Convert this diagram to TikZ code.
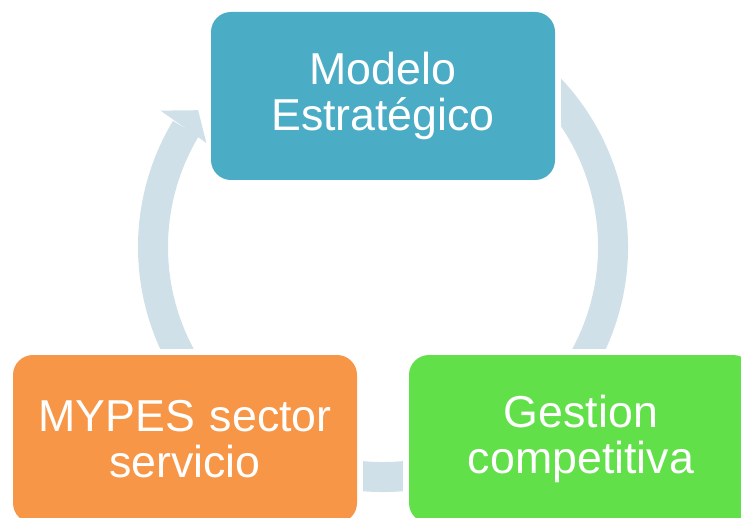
\documentclass[tikz,border=0pt]{standalone}
\usepackage{fontspec}
\setmainfont{Liberation Sans}
\usetikzlibrary{backgrounds}

\definecolor{azul}{HTML}{4BACC6}
\definecolor{naranja}{HTML}{F79646}
\definecolor{verde}{HTML}{62E04A}
\definecolor{ciclo}{HTML}{CFE0E8}

\begin{document}
\begin{tikzpicture}[x=1pt, y=1pt,
  every node/.style={rounded corners=20pt, minimum width=344pt, minimum height=168pt,
    inner sep=5pt, text width=320pt, align=center, text=white,
    font=\fontsize{44.7}{46}\selectfont},
  ring/.style={draw=ciclo, line width=30pt}
]
  \useasboundingbox (0,0) rectangle (741,517);
  \coordinate (c) at (383,270);

  \node[fill=azul] (modelo) at (383,421) {Modelo\\Estratégico};
  \node[fill=naranja] (mypes) at (185,78) {MYPES sector\\servicio};
  \node[fill=verde] (gestion) at (581,78) {Gestion\\competitiva};

  % ring behind the boxes, kept 6pt away from them
  \begin{scope}[on background layer]
    \fill[ciclo] ([shift={(148.5:261)}]c) -- ([shift={(143.5:230)}]c)
      -- ([shift={(149.5:205)}]c) -- cycle;
    \begin{scope}[even odd rule]
      \clip (-20,-20) rectangle (760,540)
        ([shift={(-6,-6)}]modelo.south west) rectangle ([shift={(6,6)}]modelo.north east)
        ([shift={(-6,-6)}]mypes.south west) rectangle ([shift={(6,6)}]mypes.north east)
        ([shift={(-6,-6)}]gestion.south west) rectangle ([shift={(6,6)}]gestion.north east);
      \draw[ring] ([shift={(60:230)}]c) arc[start angle=60, end angle=-211, radius=230];
    \end{scope}
  \end{scope}
\end{tikzpicture}
\end{document}
